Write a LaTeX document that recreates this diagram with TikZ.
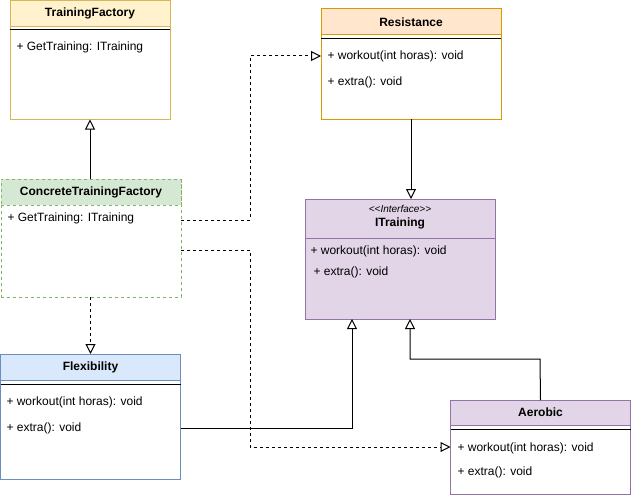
\documentclass[tikz,border=0pt]{standalone}
\usepackage{fontspec}
\setmainfont{Liberation Sans}
\usetikzlibrary{arrows.meta}
\definecolor{yF}{HTML}{FFF2CC}\definecolor{yS}{HTML}{D6B656}
\definecolor{oF}{HTML}{FFE6CC}\definecolor{oS}{HTML}{D79B00}
\definecolor{gF}{HTML}{D5E8D4}\definecolor{gS}{HTML}{82B366}
\definecolor{bF}{HTML}{DAE8FC}\definecolor{bS}{HTML}{6C8EBF}
\definecolor{pF}{HTML}{E1D5E7}\definecolor{pS}{HTML}{9673A6}
\begin{document}
\begin{tikzpicture}[x=1pt,y=-1pt,line width=1pt,
  box/.style={draw, inner sep=0pt, outer sep=0pt, anchor=north west, fill=white},
  hdr/.style={draw, inner sep=0pt, outer sep=0pt, anchor=north west, font=\fontsize{12pt}{14pt}\selectfont\bfseries},
  member/.style={anchor=west, inner sep=0pt, font=\fontsize{12pt}{14pt}\selectfont},
  inh/.style={-{Triangle[length=10pt,width=10pt,fill=white]}},
  dep/.style={inh, dash pattern=on 3pt off 3pt},
  sepline/.style={draw=black}]
\useasboundingbox (0,0) rectangle (631,495);

% TrainingFactory
\node[box, draw=yS, minimum width=160pt, minimum height=119pt] (tf) at (10,0.5) {};
\node[hdr, draw=yS, fill=yF, minimum width=160pt, minimum height=26pt] (tfh) at (tf.north west) {TrainingFactory};
\draw[sepline] (10,30) -- (170,30);
\node[member] (tfm1) at (16,47) {+ GetTraining: ITraining};

% Resistance
\node[box, draw=oS, minimum width=180pt, minimum height=110pt] (res) at (321,9) {};
\node[hdr, draw=oS, fill=oF, minimum width=180pt, minimum height=26pt] (resh) at (res.north west) {Resistance};
\draw[sepline] (321,39) -- (501,39);
\node[member] (resm1) at (327,56) {+ workout(int horas): void};
\node[member] (resm2) at (327,82) {+ extra(): void};

% ConcreteTrainingFactory
\node[box, draw=gS, dash pattern=on 3pt off 3pt, minimum width=180pt, minimum height=118pt] (ctf) at (1,179) {};
\node[hdr, draw=gS, dash pattern=on 3pt off 3pt, fill=gF, minimum width=180pt, minimum height=26pt] (ctfh) at (ctf.north west) {ConcreteTrainingFactory};
\node[member] (ctfm1) at (7,218) {+ GetTraining: ITraining};

% ITraining
\node[box, draw=pS, fill=pF, minimum width=190pt, minimum height=120pt] (itr) at (305,199) {};
\node[inner sep=0pt, font=\fontsize{10pt}{12pt}\selectfont\itshape] (itrs) at (400,209) {<\kern0pt<Interface>\kern0pt>};
\node[inner sep=0pt, font=\fontsize{12pt}{14pt}\selectfont\bfseries] (itrh) at (400,223) {ITraining};
\draw[draw=pS] (305,238) -- (495,238);
\node[member] (itrm1) at (310,251) {+ workout(int horas): void};
\node[member] (itrm2) at (313,272) {+ extra(): void};

% Flexibility
\node[box, draw=bS, minimum width=180pt, minimum height=125pt] (flex) at (0.5,354) {};
\node[hdr, draw=bS, fill=bF, minimum width=180pt, minimum height=26pt] (flexh) at (flex.north west) {Flexibility};
\draw[sepline] (0.5,384) -- (180.5,384);
\node[member] (flexm1) at (6,402) {+ workout(int horas): void};
\node[member] (flexm2) at (6,428) {+ extra(): void};

% Aerobic
\node[box, draw=pS, minimum width=180pt, minimum height=94pt] (aer) at (450.5,400) {};
\node[hdr, draw=pS, fill=pF, minimum width=180pt, minimum height=25pt] (aerh) at (aer.north west) {Aerobic};
\draw[sepline] (450.5,429) -- (630.5,429);
\node[member] (aerm1) at (457,448) {+ workout(int horas): void};
\node[member] (aerm2) at (457,472) {+ extra(): void};

% connectors
\draw[inh] (tf.south |- ctf.north) -- (tf.south);
\draw[dep] (flex.north |- ctf.south) -- (flex.north);
\draw[inh] (res.south) -- (res.south |- itr.north);
\draw[dep] (ctf.east |- 0,220) -- (250,220) -- (250,56) -- (res.west |- 0,56);
\draw[dep] (ctf.east |- 0,250) -- (250,250) -- (250,447) -- (aer.west |- 0,447);
\draw[inh] (flex.east |- 0,428) -- (352,428) -- (352,319);
\draw[inh] (aer.north) -- (540,359) -- (410,359) -- (410,319);
\end{tikzpicture}
\end{document}
